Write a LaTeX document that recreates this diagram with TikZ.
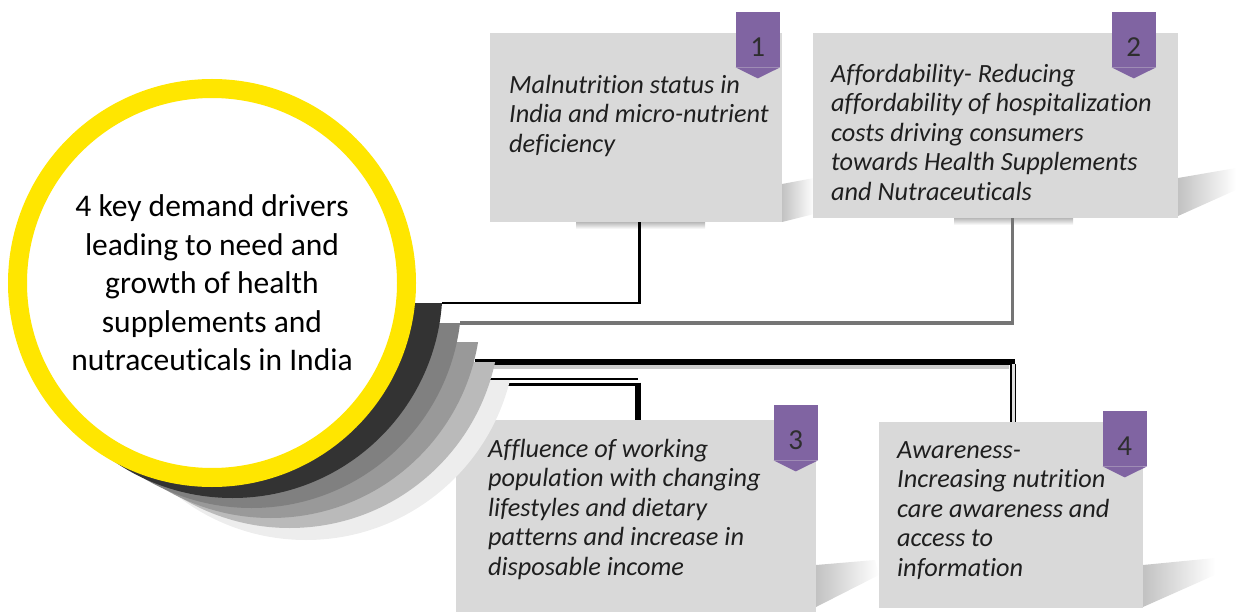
\documentclass[tikz,border=0pt]{standalone}
\usepackage{fontspec}
\setmainfont{Carlito}[Ligatures={NoCommon}]
\usetikzlibrary{positioning}

\definecolor{ringyellow}{HTML}{FFE600}
\definecolor{tagpurple}{HTML}{8064A2}
\definecolor{cardgray}{HTML}{D9D9D9}

\begin{document}
\begin{tikzpicture}[
    x=1pt, y=-1pt,
    card/.style={
      rectangle, fill=cardgray, inner sep=0pt, anchor=north west
    },
    cardtext/.style={
      inner sep=0pt, align=left, text=black!88,
      font=\fontsize{26.3}{29.5}\selectfont\itshape
    },
    tag/.style={
      rectangle, fill=tagpurple, inner sep=0pt, anchor=north east,
      minimum width=44pt, minimum height=55pt
    },
    tagnum/.style={
      inner sep=0pt, text=black!82, font=\fontsize{29}{32}\selectfont
    },
    cardshadow/.style={
      left color=black!24, right color=white
    },
    link/.style={line width=2.8pt}
  ]
  \useasboundingbox (0,0) rectangle (1236,612);

  % shadows of the cards
  \shade[cardshadow] (782,222) -- (782,184) -- (814,178) -- (814,214) -- cycle;
  \shade[cardshadow] (1178,178) -- (1236,168) -- (1236,190) -- (1178,216) -- cycle;
  \shade[cardshadow] (816,565) -- (875,560) -- (879,575) -- (816,607) -- cycle;
  \shade[cardshadow] (1143,565) -- (1215,558) -- (1215,575) -- (1143,607) -- cycle;
  \shade[top color=black!28, bottom color=white] (576,222) rectangle (705,229);
  \shade[top color=black!28, bottom color=white] (954,218) rectangle (1073,225);

  % cards
  \node[card, minimum width=292pt, minimum height=189pt] (b1) at (490,33) {};
  \node[card, minimum width=365pt, minimum height=185pt] (b2) at (813,33) {};
  \node[card, minimum width=360pt, minimum height=200pt] (b3) at (456,420) {};
  \node[card, minimum width=264pt, minimum height=186pt] (b4) at (879,422) {};

  \node[cardtext, below right=39.3pt and 19pt of b1.north west] (b1text)
    {\strut Malnutrition status in\\India and micro-nutrient\\deficiency};
  \node[cardtext, below right=28.3pt and 18pt of b2.north west] (b2text)
    {\strut Affordability- Reducing\\affordability of hospitalization\\costs driving consumers\\towards Health Supplements\\and Nutraceuticals};
  \node[cardtext, below right=16.3pt and 32pt of b3.north west] (b3text)
    {\strut Affluence of working\\population with changing\\lifestyles and dietary\\patterns and increase in\\disposable income};
  \node[cardtext, below right=15.3pt and 18pt of b4.north west] (b4text)
    {\strut Awareness-\\Increasing nutrition\\care awareness and\\access to\\information};

  % number tags
  \foreach \n/\x/\y in {1/780/12, 2/1156/12, 3/818/405, 4/1147/411} {
    \node[tag] (t\n) at (\x,\y) {};
    \fill[tagpurple] (t\n.south west) -- ([yshift=-11pt]t\n.south)
      -- (t\n.south east) -- cycle;
    \node[tagnum] (t\n num) at ([yshift=-7.5pt]t\n.center) {\n};
  }

  % connectors
  \coordinate (c1) at (442,303);
  \coordinate (c2) at (460,323);
  \coordinate (c3) at (475,362);
  \coordinate (c4) at (488,379);
  \coordinate (c5) at (508,384);

  \draw[link] (c1) -| ([xshift=3pt]b1.south);
  \draw[link, black!54, line width=3.2pt] (c2) -| ([xshift=17pt]b2.south);
  \draw[black!20, line width=4pt] ([yshift=-5pt]c3) -- ([xshift=-2pt,yshift=-5pt]b4.north |- c3);
  \draw[line width=6pt] (c3) -- ([xshift=4pt]b4.north |- c3);
  \draw[line width=1.8pt, double=black!12, double distance=2.6pt]
    ([xshift=2pt,yshift=-2pt]b4.north |- c3) -- ([xshift=2pt]b4.north);
  \draw[line width=1.3pt] (c4) -- ([xshift=2pt]b3.north |- c4);
  \draw[line width=3pt] (c5) -- ([xshift=2pt]b3.north |- c5);
  \draw[line width=6pt] ([xshift=2pt,yshift=1.5pt]b3.north |- c5) -- ([xshift=2pt]b3.north);

  % stacked shadow rings behind the hub
  \foreach \top/\cx/\cy/\col in {380/306/330/black!7, 362/289.7/318/black!27,
      342/270.8/308/black!40, 323/251.5/298/black!50, 303/232.5/288/black!80} {
    \begin{scope}
      \clip (0,\top) rectangle (1236,612);
      \fill[\col] (\cx,\cy) circle[radius=210pt];
    \end{scope}
  }

  \node[circle, draw=ringyellow, line width=19pt, fill=white,
    minimum size=389pt, inner sep=0pt, align=center,
    font=\fontsize{31.5}{38.5}\selectfont] (hub) at (212,283)
    {4 key demand drivers\\leading to need and\\growth of health\\supplements and\\nutraceuticals in India};
\end{tikzpicture}
\end{document}
